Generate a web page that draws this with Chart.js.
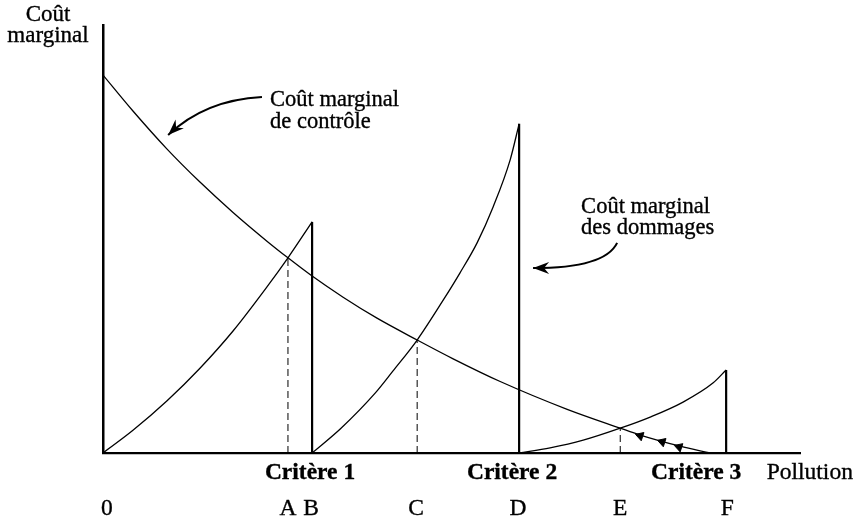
<!DOCTYPE html>
<html>
<head>
<meta charset="utf-8">
<script src="https://cdn.jsdelivr.net/npm/chart.js@4.4.0/dist/chart.umd.min.js"></script>
<style>
  html, body { margin: 0; padding: 0; background: #fff; }
  #wrap { width: 856px; height: 518px; }
</style>
</head>
<body>
<div id="wrap"><canvas id="chart" width="856" height="518"></canvas></div>
<script>
// Valeurs (x : pollution, y : coût marginal, axe y de 0 à 100)
const xMax = 335;
const yMax = 100;

// Coût marginal de contrôle
const controlX = [0, 14.4, 30.8, 46.6, 62.5, 78.8, 88.9, 99.5, 115.4, 131.7, 151.0, 168.3, 190.9, 223.1, 248.6, 258.2, 277.4, 291.8];
const controlY = [88.3, 79.9, 71.0, 63.3, 56.2, 49.5, 45.6, 41.7, 36.4, 31.5, 26.4, 22.0, 16.7, 10.2, 5.8, 4.2, 1.6, 0];

// Coût marginal des dommages (trois critères)
const damage1X = [0, 14.4, 30.8, 46.6, 62.5, 78.8, 88.9, 100.5];
const damage1Y = [0, 5.3, 12.2, 19.8, 28.5, 38.8, 45.6, 54.0];
const damage2X = [100.5, 114.4, 130.8, 139.4, 151.0, 163.5, 171.6, 179.8, 187.5, 195.7, 200.0];
const damage2Y = [0, 5.8, 14.0, 19.2, 26.4, 35.7, 42.1, 49.1, 57.5, 68.5, 76.9];
const damage3X = [200.0, 214.9, 230.8, 248.6, 263.0, 278.8, 293.3, 299.5];
const damage3Y = [0, 1.2, 3.0, 5.8, 8.4, 11.9, 16.4, 19.4];

// Seuils des critères (B, D, F) et optimums (A, C, E)
const criteriaX = [100.5, 200.0, 299.5];
const criteriaTop = [54.0, 76.9, 19.4];
const optimumX = [88.9, 151.0, 248.6];
const optimumY = [45.6, 26.4, 5.8];

// petites flèches sur la courbe de contrôle
const arrowX = [258.2, 268.8, 276.9];
const arrowY = [4.0, 2.6, 1.4];

// libellés de l'axe
const letterLabels = ['0', 'A', 'B', 'C', 'D', 'E', 'F'];
const letterX = [1.9, 88.9, 100.0, 150.5, 199.5, 248.6, 300.0];
const criteriaLabels = ['Critère 1', 'Critère 2', 'Critère 3'];
const criteriaLabelX = [99.5, 196.6, 285.1];

function pts(xs, ys) {
    return xs.map((x, i) => ({ x: x, y: ys[i] }));
}

const curve = { borderColor: '#000', borderWidth: 1.3, pointRadius: 0, cubicInterpolationMode: 'monotone', fill: false };

const datasets = [
    Object.assign({ data: pts(controlX, controlY) }, curve),
    Object.assign({ data: pts(damage1X, damage1Y) }, curve),
    Object.assign({ data: pts(damage2X, damage2Y) }, curve),
    Object.assign({ data: pts(damage3X, damage3Y) }, curve)
];

criteriaX.forEach((x, i) => {
    datasets.push({ data: [{ x: x, y: 0 }, { x: x, y: criteriaTop[i] }], borderColor: '#000', borderWidth: 2.2, pointRadius: 0 });
});
optimumX.forEach((x, i) => {
    datasets.push({ data: [{ x: x, y: 0 }, { x: x, y: optimumY[i] }], borderColor: '#000', borderWidth: 1, borderDash: [7, 4], pointRadius: 0 });
});
datasets.push({
    data: pts(arrowX, arrowY),
    showLine: false,
    pointStyle: 'triangle',
    pointRadius: 5,
    rotation: -72,
    backgroundColor: '#000',
    borderColor: '#000',
    borderWidth: 1
});

const SERIF = '"Liberation Serif", "Times New Roman", serif';

function drawArrow(ctx, x0, y0, cx, cy, x1, y1) {
    ctx.beginPath();
    ctx.moveTo(x0, y0);
    ctx.quadraticCurveTo(cx, cy, x1, y1);
    ctx.stroke();
    const a = Math.atan2(y1 - cy, x1 - cx);
    ctx.save();
    ctx.translate(x1, y1);
    ctx.rotate(a);
    ctx.beginPath();
    ctx.moveTo(0, 0);
    ctx.lineTo(-16, -6);
    ctx.lineTo(-11, 0);
    ctx.lineTo(-16, 6);
    ctx.closePath();
    ctx.fill();
    ctx.restore();
}

// texte un peu plus épais, comme sur le document scanné
function text(ctx, t, x, y) {
    ctx.fillText(t, x, y);
    ctx.lineWidth = 0.35;
    ctx.strokeText(t, x, y);
}

const notes = {
    id: 'notes',
    afterDraw(chart) {
        const ctx = chart.ctx;
        const xs = chart.scales.x, ys = chart.scales.y;
        const px = v => xs.getPixelForValue(v);
        const py = v => ys.getPixelForValue(v);
        const base = chart.chartArea.bottom;

        ctx.save();
        ctx.fillStyle = '#000';
        ctx.strokeStyle = '#000';

        // titre de l'axe vertical
        ctx.font = '23px ' + SERIF;
        ctx.textAlign = 'center';
        ctx.textBaseline = 'alphabetic';
        text(ctx, 'Coût', 48, 21);
        text(ctx, 'marginal', 48, 42);

        // étiquettes des courbes
        ctx.font = '22.5px ' + SERIF;
        ctx.textAlign = 'left';
        text(ctx, 'Coût marginal', px(80.3), py(81.1));
        text(ctx, 'de contrôle', px(80.3), py(75.9));
        text(ctx, 'Coût marginal', px(229.8), py(56.1));
        text(ctx, 'des dommages', px(229.8), py(51.2));

        ctx.lineWidth = 2;
        drawArrow(ctx, px(76.4), py(83.2), px(49.0), py(82.5), px(31.3), py(74.3));
        drawArrow(ctx, px(247.1), py(49.1), px(241.3), py(43.2), px(206.7), py(43.2));

        // axe horizontal
        ctx.textAlign = 'center';
        ctx.font = 'bold 23.5px ' + SERIF;
        criteriaLabels.forEach((t, i) => text(ctx, t, px(criteriaLabelX[i]), base + 26));
        ctx.font = '23.5px ' + SERIF;
        ctx.textAlign = 'left';
        text(ctx, 'Pollution', px(319.0), base + 26);
        ctx.textAlign = 'center';
        letterLabels.forEach((t, i) => text(ctx, t, px(letterX[i]), base + 62));

        ctx.restore();
    }
};

new Chart(document.getElementById('chart'), {
    type: 'line',
    data: { datasets: datasets },
    options: {
        responsive: false,
        animation: false,
        layout: { padding: { left: 103, top: 25, right: 56, bottom: 65 } },
        plugins: { legend: { display: false }, tooltip: { enabled: false } },
        scales: {
            x: {
                type: 'linear', min: 0, max: xMax,
                ticks: { display: false },
                grid: { display: false },
                border: { display: true, color: '#000', width: 2.2 },
                afterFit: s => { s.height = 0; }
            },
            y: {
                type: 'linear', min: 0, max: yMax,
                ticks: { display: false },
                grid: { display: false },
                border: { display: true, color: '#000', width: 2.5 },
                afterFit: s => { s.width = 0; }
            }
        }
    },
    plugins: [notes]
});
</script>
</body>
</html>
